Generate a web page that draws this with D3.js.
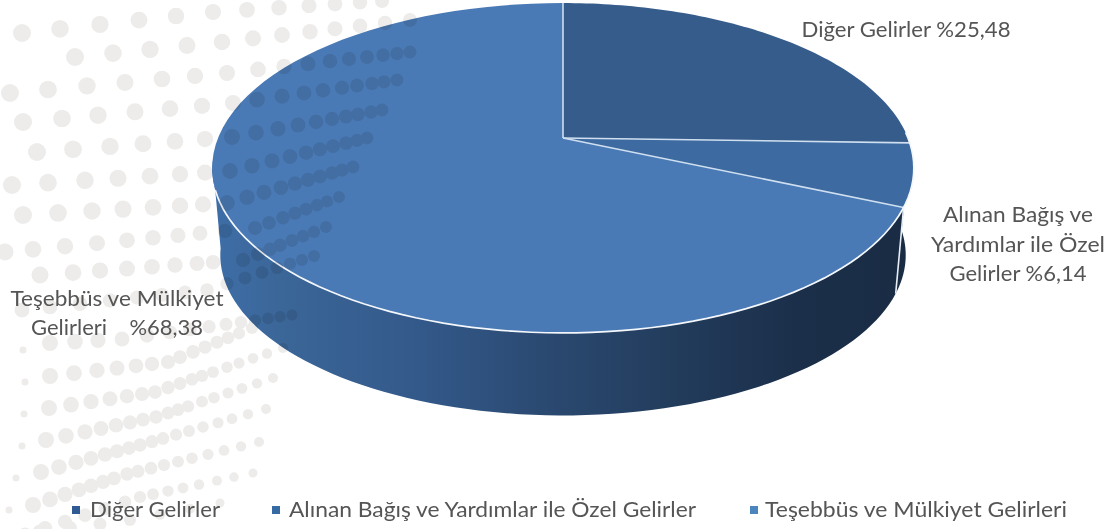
<!DOCTYPE html>
<html><head><meta charset="utf-8">
<script src="https://cdn.jsdelivr.net/npm/d3@7"></script>
<style>html,body{margin:0;padding:0;background:#fff;overflow:hidden}svg{display:block}text{font-family:Lato,"Open Sans",sans-serif;fill:#555}</style>
</head><body><svg id="c" width="1115" height="529"></svg>
<script>
const categories=["Diğer Gelirler","Alınan Bağış ve Yardımlar ile Özel Gelirler","Teşebbüs ve Mülkiyet Gelirleri"];
const values=[25.48,6.14,68.38];
const topColors=["#365c8b","#3c6aa1","#4a7ab5"];
const legendColors=["#2f5a94","#356aa3","#4a85bd"];
const labelLines=[["Diğer Gelirler %25,48"],["Alınan Bağış ve","Yardımlar ile Özel","Gelirler %6,14"],["Teşebbüs ve Mülkiyet","Gelirleri    %68,38"]];
// background decoration rows: x positions, [x,y] anchors, radius at start and end
const decorRows=[
{xs:[22,60,100,139,176,213,247,279,309,335,360,382],a:[[22,33],[213,12],[382,1]],r:[9,7]},
{xs:[75,113,150,187,222,253,282,310,335,360,385,410],a:[[75,57],[222,42],[410,20]],r:[9,7]},
{xs:[10,48,87,125,162,195,227,258,284,308,330,349,367,383,397,410],a:[[10,93],[227,73],[410,52]],r:[9,6.5]},
{xs:[23,62,98,135,170,202,233,257,282,304,323,342,357,372,384,397],a:[[23,122],[233,103],[397,80]],r:[9,6.5]},
{xs:[37,73,110,143,175,205,232,256,278,298,316,332,346,358,371,382],a:[[37,152],[232,137],[382,110]],r:[9,6.5]},
{xs:[12,48,85,118,150,180,205,230,252,272,290,306,320,333,346,357,367],a:[[12,185],[230,171],[367,138]],r:[9,6.5]},
{xs:[23,58,92,123,153,180,203,227,247,264,281,295,308,320,332,342,353],a:[[23,215],[227,203],[353,167]],r:[9,6.5]},
{xs:[5,33,65,97,127,153,178,200,225,255,269,283,295,306,317,327,339],a:[[5,252],[255,228],[339,197]],r:[8.5,6]},
{xs:[40,73,100,127,152,175,197,213,243,258,270,280,292,303,314,326],a:[[40,275],[243,260],[326,227]],r:[8.5,6]},
{xs:[22,50,80,110,137,162,185,207,227,245,262,277,290,302,314],a:[[22,310],[207,290],[314,256]],r:[7.5,6]},
{xs:[50,75,98,122,147,170,190,209,226,241,255,268,280,292],a:[[50,343],[122,339],[292,315]],r:[8,5.5]},
{xs:[50,74,97,117,136,152,168,180,193,205,217,228,239,252],a:[[50,376],[168,362],[252,328]],r:[8,6]},
{xs:[49,71,91,110,127,142,155,168,180,192,202,213,227,239,253,267,283],a:[[49,408],[155,392],[283,348]],r:[8,5]},
{xs:[46,66,85,101,116,130,143,156,168,178,188,202,214,228,242,257,273],a:[[46,440],[156,417],[273,378]],r:[8,5]},
{xs:[41,59,76,91,105,117,129,140,152,163,176,189,203,218,232,248,266],a:[[41,472],[140,445],[266,409]],r:[8,5]},
{xs:[33,50,65,79,91,103,114,127,138,151,164,178,192,208,224,241,259],a:[[33,505],[127,474],[259,442]],r:[8,5]},
{xs:[25,45,65,85,105,125,140,153,168,183,199,217,234,253],a:[[25,535],[140,497],[253,473]],r:[7.5,4.5]},
{xs:[40,70,100,130,160,190,220],a:[[40,532],[130,520],[220,503]],r:[7.5,4.5]}
];
const smallDots=[[23,350],[25,382],[24,414],[22,446],[16,478],[9,510]];

const svg=d3.select("#c");
const defs=svg.append("defs");
const wallG=defs.append("linearGradient").attr("id","wall").attr("gradientUnits","userSpaceOnUse").attr("x1",212).attr("x2",900).attr("y1",0).attr("y2",0);
[[0,"#3e6ea8"],[.1,"#3b6698"],[.3,"#33598a"],[.5,"#2a486f"],[.7,"#213a59"],[.85,"#1b2f4a"],[1,"#1a2c44"]].forEach(s=>wallG.append("stop").attr("offset",s[0]).attr("stop-color",s[1]));
defs.append("filter").attr("id","soft").append("feGaussianBlur").attr("stdDeviation",.7);

const dots=decorRows.flatMap(row=>{
  const y=d3.scaleLinear().domain(row.a.map(p=>p[0])).range(row.a.map(p=>p[1]));
  const r=d3.scaleLinear().domain([0,row.xs.length-1]).range(row.r);
  return row.xs.map((x,i)=>({x,y:y(x),r:r(i)}));
}).concat(smallDots.map(d=>({x:d[0],y:d[1],r:3.5})));

function drawDots(g,fill){
  g.selectAll("circle").data(dots).join("circle").attr("cx",d=>d.x).attr("cy",d=>d.y).attr("r",d=>d.r).attr("fill",fill);
}
drawDots(svg.append("g").attr("filter","url(#soft)"),"#edecea");

// perspective projection of a tilted disc
const cx=563,persp=60/330;
const topP={ay:138,k:159.5,d:345};
const botP={ay:226,k:155,d:337};
function proj(a,P){const u=Math.sin(a),v=Math.cos(a),w=1+persp*v;return [cx+P.d*u/w,P.ay-P.k*v/w];}
const pie=d3.pie().sort(null).value(d=>d)(values);
const line=d3.line();
const samples=(a,b,P)=>d3.range(0,81).map(i=>proj(a+(b-a)*i/80,P));
const deg=d=>d*Math.PI/180;
const wallEnd=deg(262),rimEnd=deg(252),frontStart=deg(90);

const wallPts=(a,b)=>samples(a,b,topP).concat(samples(a,b,botP).reverse());
pie.forEach(s=>{
  const a=Math.max(s.startAngle,frontStart),b=Math.min(s.endAngle,wallEnd);
  if(b<=a)return;
  svg.append("path").attr("d",line(wallPts(a,b))+"Z").attr("fill","url(#wall)");
});
svg.append("path").attr("d",line([proj(pie[1].endAngle,topP),proj(pie[1].endAngle,botP)])).attr("stroke","#e8eef5").attr("stroke-width",1.6).attr("fill","none");

pie.forEach((s,i)=>{
  const pts=[[cx,topP.ay]].concat(samples(s.startAngle,s.endAngle,topP));
  svg.append("path").attr("d",line(pts)+"Z").attr("fill",topColors[i]);
});
pie.forEach(s=>{
  svg.append("path").attr("d",line([[cx,topP.ay],proj(s.startAngle,topP)])).attr("stroke","#cfdfef").attr("stroke-width",1.6).attr("fill","none");
});
svg.append("path").attr("d",line(samples(deg(88),rimEnd,topP))).attr("stroke","#f4f7fb").attr("stroke-width",1.7).attr("fill","none");

// dots showing through the chart, clipped to the chart silhouette
const clip=defs.append("clipPath").attr("id","sil");
clip.append("path").attr("d",line(samples(0,2*Math.PI,topP))+"Z");
clip.append("path").attr("d",line(wallPts(frontStart,wallEnd))+"Z");
drawDots(svg.append("g").attr("clip-path","url(#sil)").style("mix-blend-mode","multiply").append("g").attr("filter","url(#soft)"),"#e6e6e6");

// labels
const labelX=[906,1018,117];
const labelWidths=[[209],[150,174,137],[213,172]];
const labelBase=[[37],[222,252,281],[306,335]];
labelLines.forEach((ls,i)=>ls.forEach((t,j)=>{
  svg.append("text").attr("x",labelX[i]).attr("y",labelBase[i][j]).attr("text-anchor","middle")
    .attr("font-size",20.5).attr("textLength",labelWidths[i][j]).attr("lengthAdjust","spacingAndGlyphs").style("white-space","pre").text(t);
}));
const legendMark=[72,272,750],legendText=[90,289,765],legendW=[130,407,302];
categories.forEach((c,i)=>{
  svg.append("rect").attr("x",legendMark[i]).attr("y",506).attr("width",8).attr("height",8).attr("fill",legendColors[i]);
  svg.append("text").attr("x",legendText[i]).attr("y",517).attr("font-size",20.5).attr("textLength",legendW[i]).attr("lengthAdjust","spacingAndGlyphs").text(c);
});
</script></body></html>
